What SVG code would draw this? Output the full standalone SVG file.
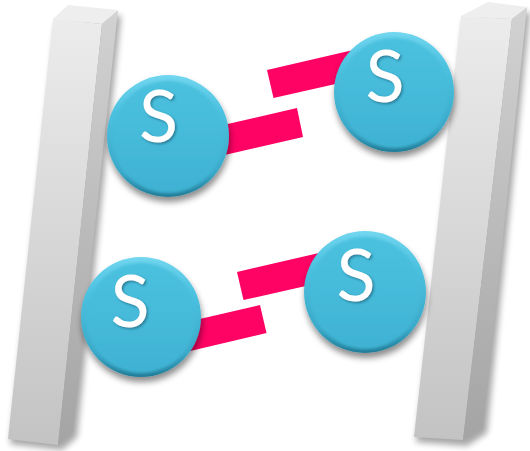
<svg xmlns="http://www.w3.org/2000/svg" width="530" height="451" viewBox="0 0 530 451">
  <defs>
    <linearGradient id="frontFace" x1="0" y1="0" x2="0" y2="1">
      <stop offset="0" stop-color="#ececec"/>
      <stop offset="1" stop-color="#c3c3c3"/>
    </linearGradient>
    <linearGradient id="sideFace" x1="0" y1="0" x2="0" y2="1">
      <stop offset="0" stop-color="#d2d2d2"/>
      <stop offset="1" stop-color="#a4a4a4"/>
    </linearGradient>
    <linearGradient id="ballOuter" x1="0" y1="0" x2="0" y2="1">
      <stop offset="0" stop-color="#72d6ef"/>
      <stop offset="0.3" stop-color="#4cc2e0"/>
      <stop offset="0.8" stop-color="#3aa8c8"/>
      <stop offset="1" stop-color="#217c97"/>
    </linearGradient>
    <linearGradient id="ballFace" x1="0" y1="0" x2="0" y2="1">
      <stop offset="0" stop-color="#4ac1df"/>
      <stop offset="1" stop-color="#40b2d3"/>
    </linearGradient>
    <filter id="pillarShadow" x="-30%" y="-10%" width="160%" height="120%">
      <feGaussianBlur stdDeviation="3"/>
    </filter>
    <filter id="ballShadow" x="-30%" y="-30%" width="160%" height="170%">
      <feGaussianBlur in="SourceAlpha" stdDeviation="3"/>
      <feOffset dx="1" dy="5" result="b"/>
      <feFlood flood-color="#000" flood-opacity="0.45"/>
      <feComposite in2="b" operator="in"/>
      <feMerge>
        <feMergeNode/>
        <feMergeNode in="SourceGraphic"/>
      </feMerge>
    </filter>
    <filter id="faceSoft" x="-10%" y="-10%" width="120%" height="120%">
      <feGaussianBlur stdDeviation="1.8"/>
    </filter>
    <filter id="letterShadow" x="-30%" y="-30%" width="160%" height="160%">
      <feDropShadow dx="1.5" dy="1.5" stdDeviation="1" flood-color="#0b4a5c" flood-opacity="0.55"/>
    </filter>
  </defs>
  <style>
    .front { fill: url(#frontFace); }
    .side { fill: url(#sideFace); }
    .top { fill: #eeeeee; }
    .shade { fill: #000; opacity: 0.35; filter: url(#pillarShadow); }
    .bar { fill: #fe0264; }
    .outer { fill: url(#ballOuter); filter: url(#ballShadow); }
    .face { fill: url(#ballFace); filter: url(#faceSoft); }
    .s { font-family: Lato, "Open Sans", "Liberation Sans", sans-serif; font-size: 72px; fill: #ffffff; text-anchor: middle; filter: url(#letterShadow); }
  </style>

  <!-- left pillar -->
  <g id="pillar-left">
    <polygon class="shade" points="56,24 121,15 77,437 62,450 10,444"/>
    <polygon class="front" points="53,19 102,24 58,445 8,439"/>
    <polygon class="side" points="102,24 118,10 73,432 58,445"/>
    <polygon class="top" points="53,19 68,5 118,10 102,24"/>
  </g>

  <!-- right pillar -->
  <g id="pillar-right">
    <polygon class="shade" points="464,21 530,12 487,433 467,446 416,442"/>
    <polygon class="front" points="461,16 512,19 463,440 414,437"/>
    <polygon class="side" points="512,19 527,7 483,428 463,440"/>
    <polygon class="top" points="461,16 488,2 527,7 512,19"/>
  </g>

  <!-- connectors: bonds between the S atoms -->
  <g id="bonds">
    <polygon class="bar" points="297,108 303,137 186,164 180,135"/>
    <polygon class="bar" points="267,70 364,47.5 371,76 273.5,98"/>
    <polygon class="bar" points="260,305 266.5,333 169,356 163,327.5"/>
    <polygon class="bar" points="237,272 334,249.5 341,278 243.5,300"/>
  </g>

  <!-- S atoms -->
  <g id="atom-top-left" transform="translate(168,136)">
    <circle class="outer" r="61"/>
    <circle class="face" r="56" cy="1"/>
    <text class="s" x="-9.5" y="6">S</text>
  </g>
  <g id="atom-top-right" transform="translate(394,92)">
    <circle class="outer" r="60"/>
    <circle class="face" r="55" cy="1"/>
    <text class="s" x="-9" y="10">S</text>
  </g>
  <g id="atom-bottom-left" transform="translate(141,317)">
    <circle class="outer" r="60"/>
    <circle class="face" r="55" cy="1"/>
    <text class="s" x="-11" y="10">S</text>
  </g>
  <g id="atom-bottom-right" transform="translate(365,292)">
    <circle class="outer" r="61"/>
    <circle class="face" r="56" cy="1"/>
    <text class="s" x="-9" y="9">S</text>
  </g>
</svg>
